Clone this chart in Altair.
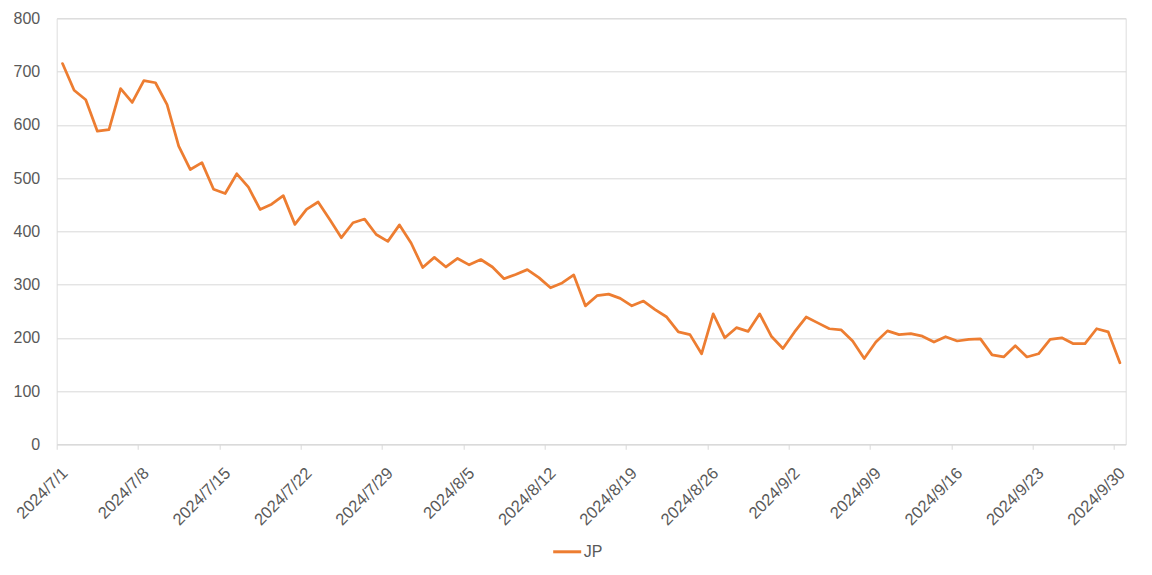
import altair as alt
import pandas as pd

# Daily values (2024/7/1 .. 2024/9/30)
jul = [715, 665, 647, 588, 591, 668, 642, 683, 679, 638, 560, 516, 529, 479, 471, 508,
       483, 441, 451, 467, 413, 441, 455, 422, 388, 416, 423, 394, 381, 412, 378]
aug = [332, 351, 333, 349, 337, 347, 333, 311, 319, 328, 313, 294, 303, 318, 260, 279,
       282, 274, 260, 269, 253, 239, 211, 206, 170, 245, 200, 219, 212, 245, 203]
sep = [180, 211, 239, 228, 217, 215, 194, 161, 192, 213, 206, 208, 203, 192, 202, 194,
       197, 198, 168, 164, 185, 164, 170, 197, 200, 189, 189, 217, 211, 153]
series_name = "JP"
y_ticks = [0, 100, 200, 300, 400, 500, 600, 700, 800]
tick_dates = [(7, 1), (7, 8), (7, 15), (7, 22), (7, 29), (8, 5), (8, 12), (8, 19),
              (8, 26), (9, 2), (9, 9), (9, 16), (9, 23), (9, 30)]

values = jul + aug + sep
dates = pd.date_range("2024-07-01", periods=len(values), freq="D")
df = pd.DataFrame({
    "date": [d.strftime("%Y-%m-%dT12:00:00") for d in dates],
    "value": values,
    "series": series_name,
})

LABEL = "#595959"
GRID = "#D9D9D9"
FONT = "Liberation Sans"

x_axis = alt.Axis(
    values=[alt.DateTime(year=2024, month=m, date=d) for m, d in tick_dates],
    format="%Y/%-m/%-d", formatType="time",
    labelAngle=-45, labelAlign="right", labelBaseline="middle",
    labelPadding=21, labelOffset=8,
    labelFont=FONT, labelFontSize=16.5, labelColor=LABEL,
    domainColor=GRID, domainWidth=1, tickColor=GRID, tickSize=5, tickWidth=1,
    grid=False, title=None, labelOverlap=False, labelFlush=False,
)
y_axis = alt.Axis(
    values=y_ticks, domain=False, ticks=False, grid=True,
    gridColor=GRID, gridWidth=1, labelPadding=17,
    labelFont=FONT, labelFontSize=16, labelColor=LABEL, title=None,
)

chart = alt.Chart(df).mark_line(strokeWidth=2.75, strokeCap="round", strokeJoin="round").encode(
    x=alt.X("date:T", axis=x_axis,
            scale=alt.Scale(domain=[alt.DateTime(year=2024, month=7, date=1),
                                    alt.DateTime(year=2024, month=10, date=1)])),
    y=alt.Y("value:Q", axis=y_axis, scale=alt.Scale(domain=[0, 800], nice=False)),
    color=alt.Color("series:N",
                    scale=alt.Scale(domain=[series_name], range=["#ED7D31"]),
                    legend=alt.Legend(
                        orient="none", legendX=495, legendY=518, title=None,
                        symbolType="stroke", symbolSize=784, symbolStrokeWidth=3,
                        labelFont=FONT, labelFontSize=16, labelColor=LABEL,
                        labelOffset=1, direction="horizontal")),
).properties(
    width=1069, height=426,
    autosize=alt.AutoSizeParams(type="none"),
    padding={"left": 48.7, "top": 10.3, "right": 16, "bottom": 122},
).configure_view(stroke=None).configure(background="white")

chart.save("out.html", embed_options={"renderer": "svg", "actions": False})
